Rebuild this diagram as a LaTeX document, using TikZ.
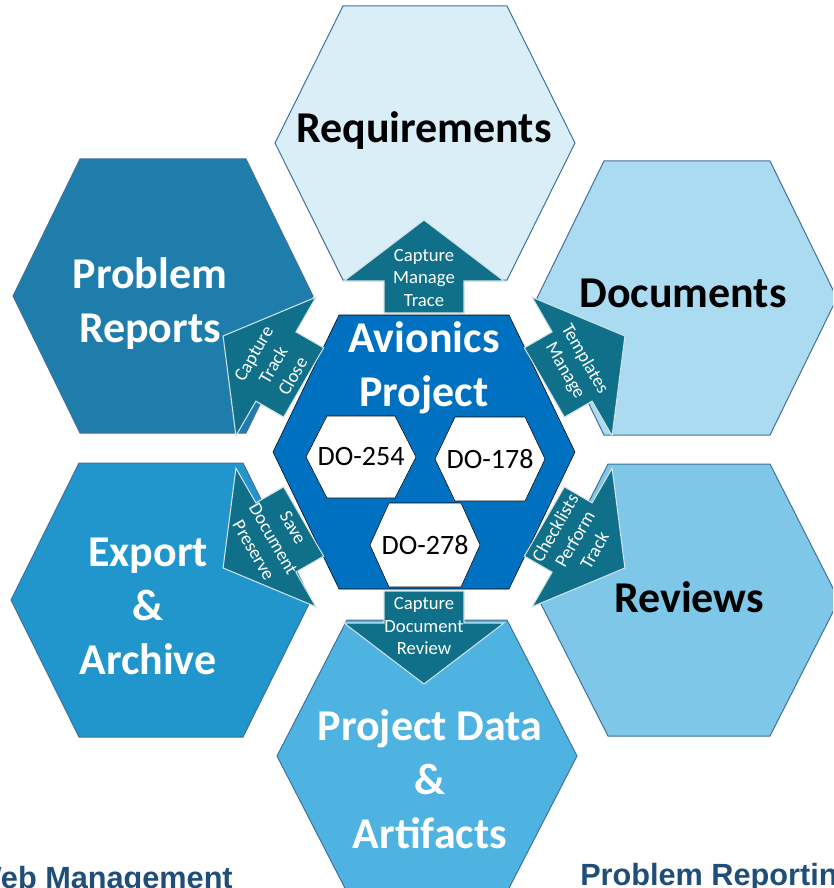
\documentclass[tikz,border=0pt]{standalone}
\usepackage{fontspec}
\setmainfont{Carlito}
\newfontfamily\arialfont{Liberation Sans}
\usetikzlibrary{calc}

\definecolor{reqblue}{RGB}{218,238,248}
\definecolor{docblue}{RGB}{171,219,241}
\definecolor{revblue}{RGB}{127,199,233}
\definecolor{datablue}{RGB}{79,179,226}
\definecolor{archblue}{RGB}{33,150,204}
\definecolor{probblue}{RGB}{31,125,171}
\definecolor{avioblue}{RGB}{0,112,192}
\definecolor{arrowteal}{RGB}{16,112,138}
\definecolor{edgeblue}{RGB}{65,113,156}
\definecolor{labelblue}{RGB}{31,78,121}

\tikzset{
  outerhex/.style={draw=edgeblue, line width=0.75pt},
  arrowbox/.style={fill=arrowteal, draw=white!80!arrowteal, line width=0.8pt},
  arrowtext/.style={text=white, font=\fontsize{14}{17}\selectfont, align=center, inner sep=0pt},
  bigtitle/.style={font=\bfseries\fontsize{33}{40.5}\selectfont, align=center, inner sep=0pt},
  dotext/.style={font=\fontsize{21}{25}\selectfont, inner sep=0pt},
  footlabel/.style={font=\arialfont\bfseries\fontsize{23}{27}\selectfont, text=labelblue, inner sep=0pt}
}

% hexagon: [style](centre)(half width:half height:half top edge)
\def\hexagon[#1](#2)(#3:#4:#5){\draw[#1,shift={(#2)}] (-#3,0) -- (-#5,-#4) -- (#5,-#4) -- (#3,0) -- (#5,#4) -- (-#5,#4) -- cycle;}
% arrow out of the centre hexagon: (name)(rotation)(1 up, -1 down){text}
\def\flowarrow(#1)(#2)(#3)#4{%
  \begin{scope}[shift={(centre)},rotate=#2]
    \draw[arrowbox] (-40,{-139*(#3)}) -- (-40,{-171*(#3)}) -- (-80,{-171*(#3)}) -- (0,{-232*(#3)})
      -- (80,{-171*(#3)}) -- (40,{-171*(#3)}) -- (40,{-139*(#3)}) -- cycle;
    \node[arrowtext,rotate=#2] (#1) at (0,{-174*(#3)}) {#4};
  \end{scope}}

\begin{document}
\begin{tikzpicture}[x=0.75pt,y=-0.75pt]
		%%%%% START %%%%%
		\clip (0,0) rectangle (833,888);
		\coordinate (centre) at (424,452);
		
		% outer ring
		\hexagon[outerhex,fill=reqblue](425,143)(150:137:82)
		\hexagon[outerhex,fill=docblue](687,298)(150:137:83)
		\hexagon[outerhex,fill=revblue](689,600)(150:136:81)
		\hexagon[outerhex,fill=datablue](427,756)(150:136:80)
		\hexagon[outerhex,fill=archblue](161,600)(150:137:82)
		\hexagon[outerhex,fill=probblue](163,296)(150:137:83)
		
		% centre with the three standards
		\hexagon[fill=avioblue](424,452)(151:137:85)
		\hexagon[fill=white](361,457)(55:41:34)
		\hexagon[fill=white](490,459)(55:42:35)
		\hexagon[fill=white](425,545)(55:42:36)
		
		% arrows
		\flowarrow(reqflow)(0)(1){Capture\\Manage\\Trace}
		\flowarrow(docflow)(-60)(1){Templates\\Manage}
		\flowarrow(revflow)(60)(-1){Checklists\\Perform\\Track}
		\flowarrow(dataflow)(0)(-1){Capture\\Document\\Review}
		\flowarrow(archflow)(-60)(-1){Save\\Document\\Preserve}
		\flowarrow(probflow)(60)(1){Capture\\Track\\Close}
		
		% titles
		\node[bigtitle,anchor=base] (req) at (424,143) {Requirements};
		\node[bigtitle,anchor=base] (doc) at (683,307) {Documents};
		\node[bigtitle,anchor=base] (rev) at (689,612) {Reviews};
		\node[bigtitle,text=white] (prob) at (150,304) {Problem\\Reports};
		\node[bigtitle,text=white] (arch) at (148,606) {Export\\\&\\Archive};
		\node[bigtitle,text=white] (data) at (430,779) {Project Data\\\&\\Artifacts};
		\node[bigtitle,text=white] (avio) at (424,368) {Avionics\\Project};
		
		\node[dotext] (do254) at (361,457) {DO-254};
		\node[dotext] (do178) at (490,459) {DO-178};
		\node[dotext] (do278) at (425,545) {DO-278};
		
		\node[footlabel,anchor=base east] (web) at (233,888) {Web Management};
		\node[footlabel,anchor=base west] (prep) at (580,885) {Problem Reporting};
		%%%%% END %%%%%
\end{tikzpicture}
\end{document}
